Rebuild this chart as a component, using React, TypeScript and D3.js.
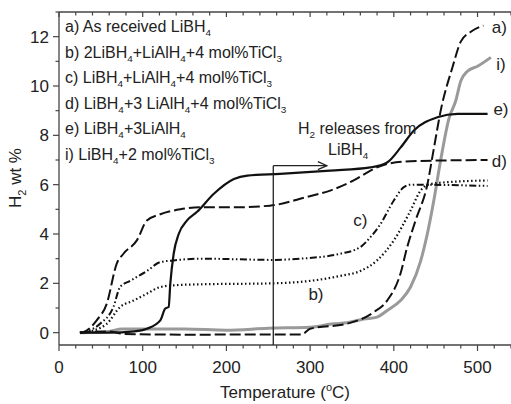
import * as d3 from "d3";

const W = 511;
const H = 404;
const MARGIN = {top: 12, right: 0, bottom: 59, left: 59};

// a) As received LiBH4
const tempA = [25, 60, 78, 150, 290, 300, 344, 376, 392, 408, 416, 426, 440, 448, 456, 470, 480, 492, 507];
const wtA = [0, 0.05, -0.05, -0.08, -0.07, 0.16, 0.36, 0.83, 1.3, 2.4, 3.47, 4.55, 6.0, 7.5, 9.0, 10.75, 11.8, 12.2, 12.45];
// b) 2LiBH4+LiAlH4+4 mol%TiCl3
const tempB = [25, 32, 57, 73, 89, 105, 121, 137, 169, 256, 300, 336, 360, 380, 400, 420, 432, 444, 464, 512];
const wtB = [0, 0.02, 0.36, 1.04, 1.3, 1.58, 1.85, 1.92, 1.96, 2.0, 2.1, 2.3, 2.5, 2.93, 3.74, 4.95, 5.76, 6.03, 6.1, 6.17];
// c) LiBH4+LiAlH4+4 mol%TiCl3
const tempC = [25, 29, 49, 65, 73, 85, 105, 121, 137, 169, 256, 288, 336, 360, 372, 384, 400, 412, 420, 512];
const wtC = [0, 0.02, 0.36, 1.04, 1.85, 2.1, 2.5, 2.86, 2.93, 3.0, 2.95, 3.0, 3.2, 3.47, 3.87, 4.4, 5.36, 5.9, 6.0, 5.95];
// d) LiBH4+3 LiAlH4+4 mol%TiCl3
const tempD = [25, 29, 45, 57, 69, 77, 93, 105, 121, 145, 169, 205, 252, 296, 324, 352, 376, 392, 420, 512];
const wtD = [0, 0.02, 0.5, 1.17, 2.8, 3.2, 3.74, 4.55, 4.8, 5.0, 5.08, 5.08, 5.15, 5.5, 5.76, 6.17, 6.64, 6.84, 6.95, 7.0];
// e) LiBH4+3LiAlH4
const tempE = [25, 60, 90, 105, 121, 127, 131, 133, 137, 143, 153, 165, 185, 209, 225, 264, 324, 372, 392, 408, 424, 452, 476, 512];
const wtE = [0, 0, 0.05, 0.16, 0.5, 0.98, 1.04, 2.0, 3.2, 4.0, 4.55, 4.9, 5.63, 6.23, 6.37, 6.44, 6.57, 6.7, 6.9, 7.5, 8.2, 8.73, 8.87, 8.87];
// i) LiBH4+2 mol%TiCl3
const tempI = [25, 60, 75, 150, 200, 250, 300, 328, 344, 364, 380, 392, 408, 420, 432, 440, 448, 456, 466, 474, 480, 488, 500, 516];
const wtI = [0, 0.05, 0.15, 0.15, 0.1, 0.18, 0.22, 0.36, 0.4, 0.55, 0.63, 0.9, 1.3, 1.85, 2.9, 4.0, 5.4, 7.0, 8.7, 9.4, 10.2, 10.6, 10.8, 11.16];

const legendLines = [
  "a) As received LiBH_4",
  "b) 2LiBH_4+LiAlH_4+4 mol%TiCl_3",
  "c) LiBH_4+LiAlH_4+4 mol%TiCl_3",
  "d) LiBH_4+3 LiAlH_4+4 mol%TiCl_3",
  "e) LiBH_4+3LiAlH_4",
  "i) LiBH_4+2 mol%TiCl_3",
];

const curveLabels = ["a)", "i)", "e)", "d)", "c)", "b)"];
const labelTemps = [526, 528, 528, 526, 360, 307];
const labelWts = [12.4, 10.9, 9.05, 6.95, 4.55, 1.55];

const xTicks = [0, 100, 200, 300, 400, 500];
const yTicks = [0, 2, 4, 6, 8, 10, 12];

const FONT = "'Liberation Sans', Arial, sans-serif";

// "_4" -> subscript 4
const Sub = ({s, size}: {s: string; size: number}) => {
  const parts = s.split(/_(\d)/);
  return (
    <>
      {parts.map((p, i) =>
        i % 2 === 1 ? (
          <tspan key={i} fontSize={size * 0.62} dy={size * 0.28}>{p}</tspan>
        ) : (
          <tspan key={i} dy={i === 0 ? 0 : -size * 0.28}>{p}</tspan>
        )
      )}
    </>
  );
};

const App = () => {
  const x = d3.scaleLinear().domain([0, 540]).range([MARGIN.left, W - MARGIN.right]);
  const y = d3.scaleLinear().domain([-0.5, 13]).range([H - MARGIN.bottom, MARGIN.top]);

  const line = (ts: number[], ws: number[]) =>
    d3.line<number>()
      .x((_, i) => x(ts[i]))
      .y((w) => y(w))
      .curve(d3.curveMonotoneX)(ws) as string;

  const series = [
    {d: line(tempI, wtI), stroke: "#9a9a9a", w: 3, dash: ""},
    {d: line(tempB, wtB), stroke: "#111", w: 2.2, dash: "1.5 2.5"},
    {d: line(tempC, wtC), stroke: "#111", w: 2, dash: "7 2.5 1.5 2.5 1.5 2.5"},
    {d: line(tempD, wtD), stroke: "#111", w: 2, dash: "11 4"},
    {d: line(tempA, wtA), stroke: "#111", w: 2, dash: "11 4"},
    {d: line(tempE, wtE), stroke: "#111", w: 2.2, dash: ""},
  ];

  const minorX = d3.range(0, 541, 20);
  const minorY = d3.range(-0, 13.01, 1);
  const axisColor = "#444";
  const x0 = MARGIN.left;
  const yBottom = H - MARGIN.bottom;
  const yTop = MARGIN.top;

  return (
    <svg width={W} height={H} style={{position: "absolute", left: 0, top: 0, background: "#fff"}}
         fontFamily={FONT}>
      <rect width={W} height={H} fill="#fff"/>
      {/* axes frame */}
      <line x1={x0} x2={W} y1={yBottom} y2={yBottom} stroke={axisColor} strokeWidth={1.3}/>
      <line x1={x0} x2={W} y1={yTop} y2={yTop} stroke={axisColor} strokeWidth={1.3}/>
      <line x1={x0} x2={x0} y1={yTop} y2={yBottom} stroke={axisColor} strokeWidth={1.3}/>

      {minorX.map((t) => {
        const major = t % 100 === 0;
        return (
          <g key={"xt" + t}>
            <line x1={x(t)} x2={x(t)} y1={yBottom} y2={yBottom + (major ? 6 : 3.5)} stroke={axisColor} strokeWidth={1.2}/>
            <line x1={x(t)} x2={x(t)} y1={yTop} y2={yTop + (major ? 5 : 3.5)} stroke={axisColor} strokeWidth={1.2}/>
          </g>
        );
      })}
      {minorY.map((v) => {
        const major = v % 2 === 0;
        return (
          <line key={"yt" + v} x1={x0 - (major ? 6 : 3.5)} x2={x0} y1={y(v)} y2={y(v)} stroke={axisColor} strokeWidth={1.2}/>
        );
      })}
      {xTicks.map((t) => (
        <text key={"xl" + t} x={x(t)} y={yBottom + 28} textAnchor="middle" fontSize={17} fill="#222">{t}</text>
      ))}
      {yTicks.map((v) => (
        <text key={"yl" + v} x={x0 - 10} y={y(v) + 6} textAnchor="end" fontSize={17} fill="#222">{v}</text>
      ))}

      {/* axis titles */}
      <text x={285} y={398} textAnchor="middle" fontSize={17} fill="#222">
        Temperature (<tspan fontSize={11} dy={-7}>o</tspan><tspan dy={7}>C)</tspan>
      </text>
      <text transform={`translate(21,${178}) rotate(-90)`} textAnchor="middle" fontSize={17} fill="#222">
        H<tspan fontSize={11} dy={5}>2</tspan><tspan dy={-5}> wt %</tspan>
      </text>

      {/* curves */}
      {series.map((s, i) => (
        <path key={i} d={s.d} fill="none" stroke={s.stroke} strokeWidth={s.w}
              strokeDasharray={s.dash || undefined} strokeLinejoin="round"/>
      ))}

      {/* annotation */}
      <line x1={x(256)} x2={x(256)} y1={yBottom} y2={y(6.77)} stroke="#222" strokeWidth={1.3}/>
      <line x1={x(256)} x2={x(320)} y1={y(6.77)} y2={y(6.77)} stroke="#222" strokeWidth={1.3}/>
      <path d={`M${x(320) - 9},${y(6.77) - 4} L${x(320)},${y(6.77)} L${x(320) - 9},${y(6.77) + 4}`}
            fill="none" stroke="#222" strokeWidth={1.3}/>
      <text x={298} y={134} fontSize={16} fill="#222">
        <Sub s="H_2 releases from" size={16}/>
      </text>
      <text x={328} y={155} fontSize={16} fill="#222">
        <Sub s="LiBH_4" size={16}/>
      </text>

      {/* legend text */}
      {legendLines.map((l, i) => (
        <text key={l} x={65} y={32 + i * 25.5} fontSize={16} fill="#222">
          <Sub s={l} size={16}/>
        </text>
      ))}

      {/* curve labels */}
      {curveLabels.map((l, i) => (
        <text key={"cl" + l} x={x(labelTemps[i])} y={y(labelWts[i]) + 6} textAnchor="middle" fontSize={17} fill="#222">{l}</text>
      ))}
    </svg>
  );
};

export default App;
